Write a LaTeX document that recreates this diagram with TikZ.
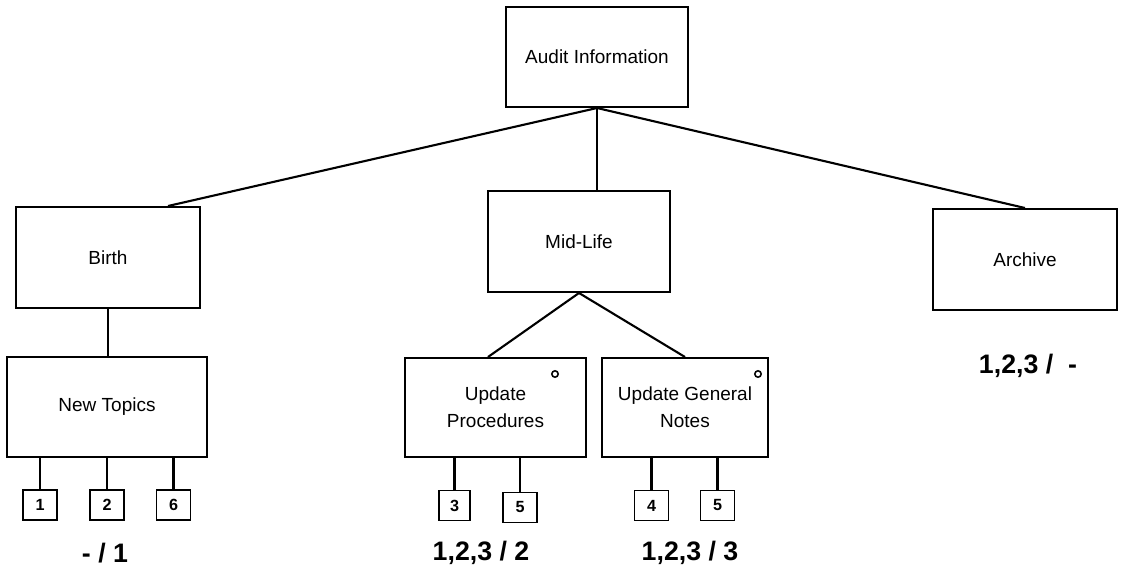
\documentclass[tikz,border=0pt]{standalone}
\usepackage{fontspec}
\setmainfont{Liberation Sans}
\usetikzlibrary{calc}

\tikzset{
  box/.style={draw,line width=1.4pt,inner sep=0pt,align=center,font=\fontsize{13.5}{19.5}\selectfont},
  tag/.style={draw,line width=1.2pt,inner sep=0pt,minimum width=0.85cm,minimum height=0.75cm,font=\bfseries\fontsize{11.5}{13}\selectfont},
  link/.style={line width=1.5pt},
  tally/.style={font=\bfseries\fontsize{19}{22}\selectfont},
  flag/.style={circle,draw,line width=1.1pt,inner sep=0pt,minimum size=0.16cm}
}

\begin{document}
\begin{tikzpicture}[x=0.025cm,y=-0.025cm]
  \useasboundingbox (0,0) rectangle (1121,572);
  % top level
  \node[box,minimum width=4.55cm,minimum height=2.5cm] (audit) at (597,57) {Audit Information};
  % stages
  \node[box,minimum width=4.6cm,minimum height=2.525cm] (birth) at (108,257.5) {Birth};
  \node[box,minimum width=4.55cm,minimum height=2.525cm] (midlife) at (579,241.5) {Mid-Life};
  \node[box,minimum width=4.6cm,minimum height=2.525cm] (archive) at (1025,259.5) {Archive};
  % tasks
  \node[box,minimum width=5cm,minimum height=2.5cm] (newtopics) at (107,407) {New Topics};
  \node[box,minimum width=4.525cm,minimum height=2.475cm] (updproc) at (495.5,407.5) {Update\\Procedures};
  \node[box,minimum width=4.15cm,minimum height=2.475cm] (updgen) at (685,407.5) {Update General\\Notes};
  \node[flag] (procflag) at (555,374) {};
  \node[flag] (genflag) at (758,374) {};
  % numbered tags
  \node[tag] (t1) at (40,505) {1};
  \node[tag] (t2) at (107,505) {2};
  \node[tag] (t6) at (173.5,505) {6};
  \node[tag,minimum width=0.775cm] (p3) at (454.5,505.5) {3};
  \node[tag] (p5) at (520,507.5) {5};
  \node[tag] (g4) at (651.5,505.5) {4};
  \node[tag] (g5) at (717.5,505.5) {5};
  % counts
  \node[tally] (birthcount) at (105,553) {- / 1};
  \node[tally] (proccount) at (481,553) {1,2,3 / 2};
  \node[tally] (gencount) at (690,553) {1,2,3 / 3};
  \node[tally] (archcount) at (1028,366) {1,2,3 /\ \ -};

  \draw[link] (audit.south) -- ($(birth.north)+(60,0)$);
  \draw[link] (audit.south) -- (audit.south |- midlife.north);
  \draw[link] (audit.south) -- (archive.north);
  \draw[link] (birth.south) -- (birth.south |- newtopics.north);
  \draw[link] (midlife.south) -- ($(updproc.north)+(-7.5,0)$);
  \draw[link] (midlife.south) -- (updgen.north);
  \foreach \t in {t1,t2,t6}
    \draw[link] (\t.north) -- (\t.north |- newtopics.south);
  \foreach \t in {p3,p5}
    \draw[link] (\t.north) -- (\t.north |- updproc.south);
  \foreach \t in {g4,g5}
    \draw[link] (\t.north) -- (\t.north |- updgen.south);
\end{tikzpicture}
\end{document}
